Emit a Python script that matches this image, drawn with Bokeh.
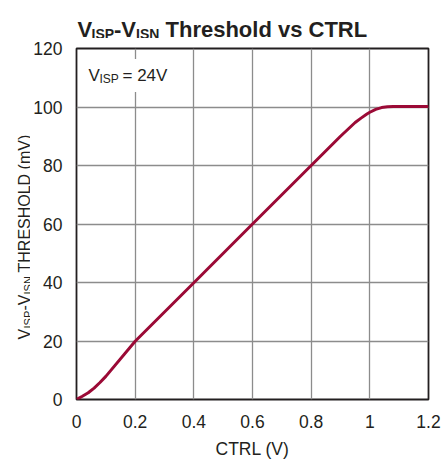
import math
from bokeh.plotting import figure
from bokeh.layouts import column, row
from bokeh.models import Range1d, FixedTicker, Label
from bokeh.core.properties import value
from bokeh.embed import file_html
from bokeh.resources import INLINE

# ---- data ----
ctrl = [0.0, 0.02, 0.04, 0.06, 0.08, 0.10, 0.20, 0.40, 0.60, 0.80, 0.90, 0.95,
        0.97, 0.99, 1.00, 1.02, 1.04, 1.06, 1.08, 1.10, 1.20]
threshold = [0.0, 1.1, 2.3, 3.9, 5.8, 7.9, 19.9, 39.9, 60.0, 80.0, 90.0, 94.7,
             96.2, 97.6, 98.2, 99.2, 99.8, 100.1, 100.2, 100.2, 100.2]

x_ticks = [0, 0.2, 0.4, 0.6, 0.8, 1, 1.2]
x_tick_labels = ["0", "0.2", "0.4", "0.6", "0.8", "1", "1.2"]
y_ticks = [0, 20, 40, 60, 80, 100, 120]
y_tick_labels = ["0", "20", "40", "60", "80", "100", "120"]

FONT = "Liberation Sans"
TXT = "#231f20"

W_ALL = 442
TITLE_H = 38
YLAB_W = 30
MAIN_H = 423
# frame geometry in page pixels
FL, FR, FT, FB = 76.0, 428.0, 48.0, 399.0
XMIN, XMAX, YMIN, YMAX = 0.0, 1.2, 0.0, 120.0


def dx(px):
    return XMIN + (px - FL) / (FR - FL) * (XMAX - XMIN)


def dy(py):
    return YMIN + (FB - py) / (FB - FT) * (YMAX - YMIN)


def blank(w, h, xr, yr):
    f = figure(frame_width=w, frame_height=h, x_range=xr, y_range=yr,
               output_backend="svg", toolbar_location=None,
               x_axis_type=None, y_axis_type=None,
               min_border=0, min_border_left=0, min_border_right=0,
               min_border_top=0, min_border_bottom=0)
    f.title.visible = False
    f.outline_line_color = None
    f.background_fill_color = "white"
    f.border_fill_color = "white"
    return f


def txt(fig, text, x, y, size, bold=False, angle=0.0):
    fig.text(x=[x], y=[y], text=[text], text_font=value(FONT), text_font_size=size,
             text_font_style="bold" if bold else "normal", text_color=TXT,
             text_align="left", text_baseline="alphabetic", angle=angle)


def put(fig, text, x, y, size, bg=None):
    lab = Label(x=x, y=y, text=text, text_font=FONT, text_font_size=size,
                text_color=TXT, text_align="left", text_baseline="alphabetic")
    if bg:
        lab.background_fill_color = bg
        lab.padding = 7
    fig.add_layout(lab)


# ---------------- title strip (coords = page pixels) ----------------
t = blank(W_ALL, TITLE_H, Range1d(0, W_ALL), Range1d(TITLE_H, 0))
txt(t, "V", 77, 29, "22px", bold=True)
txt(t, "ISP", 91, 33, "14px", bold=True)
txt(t, "-V", 113.5, 29, "22px", bold=True)
txt(t, "ISN", 135.5, 33, "14px", bold=True)
txt(t, "Threshold vs CTRL", 165, 29, "22px", bold=True)

# ---------------- y-axis title strip (coords = page pixels) ----------------
yl = blank(YLAB_W, MAIN_H, Range1d(0, YLAB_W), Range1d(TITLE_H + MAIN_H, TITLE_H))
A = math.pi / 2
txt(yl, "V", 23.5, 329, "16px", angle=A)
txt(yl, "ISP", 27, 318, "11px", angle=A)
txt(yl, "-V", 23.5, 300, "16px", angle=A)
txt(yl, "ISN", 27, 284, "11px", angle=A)
txt(yl, "THRESHOLD (mV)", 23.5, 262, "16px", angle=A)

# ---------------- main chart ----------------
p = figure(frame_width=int(FR - FL), frame_height=int(FB - FT),
           x_range=Range1d(XMIN, XMAX), y_range=Range1d(YMIN, YMAX),
           output_backend="svg", toolbar_location=None,
           min_border_left=int(FL - YLAB_W), min_border_right=int(W_ALL - FR),
           min_border_top=int(FT - TITLE_H), min_border_bottom=int(TITLE_H + MAIN_H - FB))
p.title.visible = False
p.background_fill_color = "white"
p.border_fill_color = "white"
p.outline_line_color = TXT
p.outline_line_width = 1.8

p.xaxis.ticker = FixedTicker(ticks=x_ticks)
p.yaxis.ticker = FixedTicker(ticks=y_ticks)
p.xaxis.major_label_overrides = dict(zip(x_ticks, x_tick_labels))
p.yaxis.major_label_overrides = dict(zip(y_ticks, y_tick_labels))
p.xgrid.ticker = FixedTicker(ticks=x_ticks)
p.ygrid.ticker = FixedTicker(ticks=y_ticks)
for g in (p.xgrid, p.ygrid):
    g.grid_line_color = "#8c8c8c"
    g.grid_line_width = 1.3

for ax in (p.xaxis, p.yaxis):
    ax.axis_line_color = None
    ax.major_tick_line_color = None
    ax.minor_tick_line_color = None
    ax.major_label_text_font = FONT
    ax.major_label_text_font_size = "17.5px"
    ax.major_label_text_color = TXT
    ax.axis_label_text_font = FONT
    ax.axis_label_text_font_size = "17.5px"
    ax.axis_label_text_font_style = "normal"
    ax.axis_label_text_color = TXT
p.xaxis.major_label_standoff = 9
p.yaxis.major_label_standoff = 8
p.xaxis.axis_label = "CTRL (V)"
p.xaxis.axis_label_standoff = 8

p.line(ctrl, threshold, line_color="#9b0a36", line_width=3)

# condition note inside the plot
put(p, " = 24V", dx(115), dy(75), "17px", bg="white")
put(p, "V", dx(88), dy(75), "17px")
put(p, "ISP", dx(99), dy(78), "12px")

layout = column(t, row(yl, p, spacing=0), spacing=0)
open("out.html", "w").write(file_html(layout, INLINE))
